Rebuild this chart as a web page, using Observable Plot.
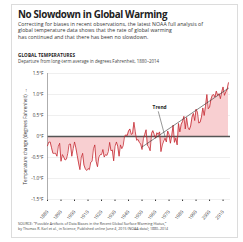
<!DOCTYPE html>
<html><head><meta charset="utf-8">
<script src="https://cdn.jsdelivr.net/npm/d3@7"></script>
<script src="https://cdn.jsdelivr.net/npm/@observablehq/plot@0.6"></script>
<style>
body{margin:0;background:#fff;}
#wrap{position:relative;width:243px;height:242px;overflow:hidden;font-family:"Open Sans",sans-serif;color:#222;}
#frame{position:absolute;left:11px;top:4px;width:227px;height:234px;border:1px solid #dcdcdc;box-sizing:border-box;}
#title{position:absolute;left:18px;top:9px;font-family:"Open Sans",sans-serif;font-weight:700;font-size:9.8px;line-height:11px;letter-spacing:-0.35px;white-space:nowrap;}
#sub{position:absolute;left:18px;top:20.5px;font-size:5.15px;line-height:6.7px;letter-spacing:0.06px;white-space:nowrap;color:#333;}
#kicker{position:absolute;left:18px;top:53px;font-size:4.6px;line-height:5px;font-weight:700;letter-spacing:0.1px;white-space:nowrap;}
#dek{position:absolute;left:18px;top:59px;font-size:4.4px;line-height:5px;white-space:nowrap;color:#444;}
#chart{position:absolute;left:0;top:66px;}
#foot{position:absolute;left:18px;top:221px;font-size:3.6px;line-height:5px;white-space:nowrap;color:#444;}
</style></head>
<body><div id="wrap">
<div id="frame"></div>
<div id="title">No Slowdown in Global Warming</div>
<div id="sub">Correcting for biases in recent observations, the latest NOAA full analysis of<br>global temperature data shows that the rate of global warming<br>has continued and that there has been no slowdown.</div>
<div id="kicker">GLOBAL TEMPERATURES</div>
<div id="dek">Departure from long-term average in degrees Fahrenheit, 1880–2014</div>
<div id="chart"></div>
<div id="foot">SOURCE: “Possible Artifacts of Data Biases in the Recent Global Surface Warming Hiatus,”<br>by Thomas R. Karl et al., in Science, Published online June 4, 2015 (NOAA data); 1880–2014</div>
</div>
<script>
const startYear = 1880;
const anomalyF = [
 -0.22,-0.13,-0.13,-0.27,-0.40,-0.40,-0.40,-0.47,-0.23,-0.16,
 -0.59,-0.43,-0.49,-0.56,-0.54,-0.40,-0.18,-0.18,-0.47,-0.29,
 -0.13,-0.27,-0.45,-0.63,-0.79,-0.49,-0.40,-0.68,-0.77,-0.81,
 -0.76,-0.79,-0.61,-0.59,-0.29,-0.20,-0.59,-0.72,-0.49,-0.43,
 -0.43,-0.31,-0.49,-0.43,-0.45,-0.36,-0.14,-0.34,-0.32,-0.58,
 -0.23,-0.13,-0.23,-0.47,-0.20,-0.29,-0.22,0.00,0.04,0.02,
 0.13,0.18,0.05,0.07,0.34,0.11,-0.09,-0.07,-0.14,-0.18,
 -0.31,-0.05,0.05,0.16,-0.22,-0.25,-0.34,0.07,0.14,0.05,
 -0.04,0.09,0.05,0.11,-0.36,-0.20,-0.11,-0.04,-0.13,0.13,
 0.05,-0.16,0.02,0.27,-0.14,-0.04,-0.20,0.31,0.11,0.29,
 0.36,0.48,0.18,0.45,0.22,0.16,0.25,0.46,0.55,0.38,
 0.65,0.58,0.32,0.34,0.46,0.68,0.50,0.72,1.00,0.66,
 0.70,0.88,0.98,1.00,0.94,1.08,0.98,1.02,0.90,1.06,
 1.18,0.98,1.06,1.12,1.28
];
const yTicks = [-1.5,-1.0,-0.5,0,0.5,1.0,1.5];
const yTickLabels = ["-1.5°F","-1.0°F","-0.5°F","0°F","0.5°F","1.0°F","1.5°F"];
const xTicks = [1880,1890,1900,1910,1920,1930,1940,1950,1960,1970,1980,1990,2000,2010];
const trendYears = [1950, 2014];
const trendValues = [-0.25, 1.15];
const trendLabel = [{year: 1963, value: 0.68, text: "Trend"}];
const trendLeader = [{x1: 1962, y1: 0.6, x2: 1967, y2: 0.0}];

const data = anomalyF.map((v, i) => ({year: startYear + i, value: v}));
const trend = trendYears.map((y, i) => ({year: y, value: trendValues[i]}));

const chart = Plot.plot({
  width: 243, height: 156,
  marginTop: 7, marginBottom: 23, marginLeft: 47, marginRight: 13,
  style: {fontFamily: "Open Sans, sans-serif", fontSize: "4.6px", background: "transparent", color: "#333", overflow: "visible"},
  x: {domain: [1880, 2015.5], ticks: xTicks, tickFormat: d => String(d), tickSize: 2, tickRotate: -50, label: null},
  y: {domain: [-1.5, 1.5], ticks: yTicks, tickFormat: d => yTickLabels[yTicks.indexOf(d)], tickSize: 0, tickPadding: 4,
      label: "Temperature change (degrees Fahrenheit)", labelAnchor: "center", labelOffset: 24},
  marks: [
    Plot.gridY(yTicks, {stroke: "#e4e4e4", strokeOpacity: 1, strokeWidth: 0.6}),
    Plot.areaY(data, {x: "year", y1: 0, y2: "value", fill: "#f8cfd1", curve: "linear"}),
    Plot.ruleY([0], {stroke: "#555", strokeWidth: 1.3}),
    Plot.ruleX([1880], {y1: -1.5, y2: 1.5, stroke: "#999", strokeWidth: 0.8}),
    Plot.lineY(data, {x: "year", y: "value", stroke: "#c4262e", strokeWidth: 0.8}),
    Plot.line(trend, {x: "year", y: "value", stroke: "#333", strokeWidth: 0.6}),
    Plot.link(trendLeader, {x1: "x1", y1: "y1", x2: "x2", y2: "y2", stroke: "#333", strokeWidth: 0.5}),
    Plot.text(trendLabel, {x: "year", y: "value", text: "text", fontWeight: "bold", fontSize: 4.8, fill: "#222"})
  ]
});
document.getElementById("chart").appendChild(chart);
</script>
</body></html>
